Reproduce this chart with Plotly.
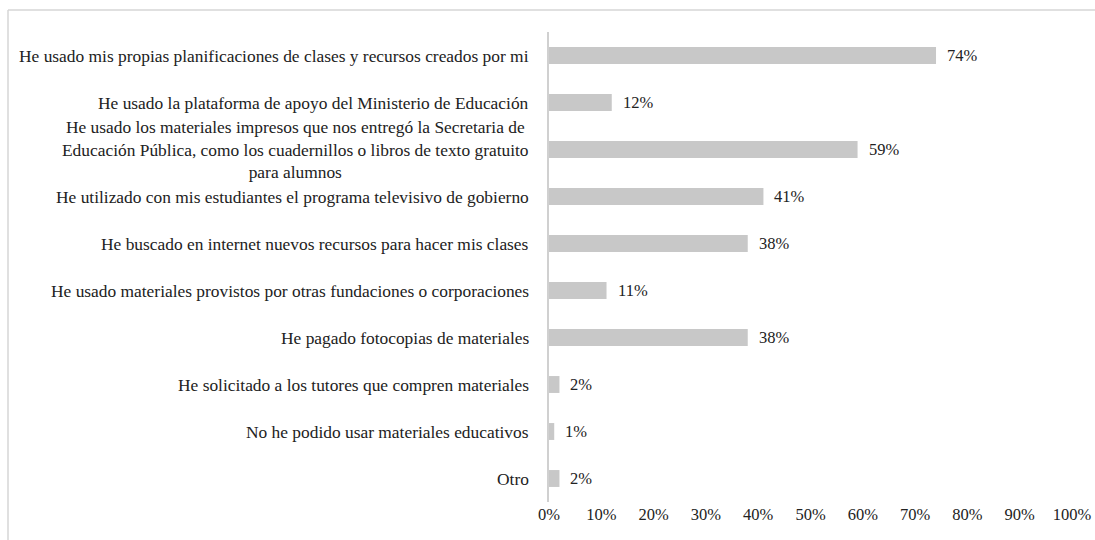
import plotly.graph_objects as go

categories = [
    "He usado mis propias planificaciones de clases y recursos creados por mi",
    "He usado la plataforma de apoyo del Ministerio de Educación",
    "He usado los materiales impresos que nos entregó la Secretaria de<br>Educación Pública, como los cuadernillos o libros de texto gratuito<br>para alumnos",
    "He utilizado con mis estudiantes el programa televisivo de gobierno",
    "He buscado en internet nuevos recursos para hacer mis clases",
    "He usado materiales provistos por otras fundaciones o corporaciones",
    "He pagado fotocopias de materiales",
    "He solicitado a los tutores que compren materiales",
    "No he podido usar materiales educativos",
    "Otro",
]
values = [74, 12, 59, 41, 38, 11, 38, 2, 1, 2]
tick_vals = [0, 10, 20, 30, 40, 50, 60, 70, 80, 90, 100]
tick_text = [f"{v}%" for v in tick_vals]

FONT = "Liberation Serif"
TXT = "#222222"

W, H = 1095, 540
L, T = 549, 32
PW, PH = 523, 470
R, B = W - L - PW, H - T - PH

fig = go.Figure(go.Bar(
    x=values, y=list(range(len(categories))), orientation="h",
    marker=dict(color="#c8c8c8", line=dict(width=0)),
    width=0.36, hoverinfo="skip",
))

annotations = []
for i, (c, v) in enumerate(zip(categories, values)):
    annotations.append(dict(
        x=0, xref="paper", y=i, yref="y", text=c, showarrow=False,
        xanchor="right", yanchor="middle", align="center", xshift=-18,
        font=dict(family=FONT, size=17.4, color=TXT),
    ))
    annotations.append(dict(
        x=v, xref="x", y=i, yref="y", text=f"{v}%", showarrow=False,
        xanchor="left", yanchor="middle", xshift=9,
        font=dict(family=FONT, size=16.5, color=TXT),
    ))

# page frame (left and top edges) at x=8, y=10 px
top_y = (PH + T - 10) / PH
left_x = -(L - 8) / PW

fig.update_layout(
    width=W, height=H,
    margin=dict(l=L, r=R, t=T, b=B, autoexpand=False),
    paper_bgcolor="white", plot_bgcolor="white",
    showlegend=False,
    annotations=annotations,
    font=dict(family=FONT, size=16, color=TXT),
    xaxis=dict(range=[0, 100], tickvals=tick_vals, ticktext=tick_text,
               showgrid=False, zeroline=False, showline=False, ticks="",
               automargin=False,
               tickfont=dict(family=FONT, size=16.5, color=TXT), fixedrange=True),
    yaxis=dict(range=[len(categories) - 0.5, -0.5], showticklabels=False,
               showgrid=False, zeroline=False, showline=True, automargin=False,
               linecolor="#d0d0d0", linewidth=1.5, ticks="", fixedrange=True),
    shapes=[
        dict(type="line", xref="paper", yref="paper", x0=left_x, x1=left_x,
             y0=-1, y1=top_y, line=dict(color="#d6d6d6", width=1.5)),
        dict(type="line", xref="paper", yref="paper", x0=left_x, x1=2,
             y0=top_y, y1=top_y, line=dict(color="#d6d6d6", width=1.5)),
    ],
)

fig.write_html(
    "out.html",
    config={"displayModeBar": False},
    post_script="document.body.style.margin='0';document.body.style.overflow='hidden';",
)
